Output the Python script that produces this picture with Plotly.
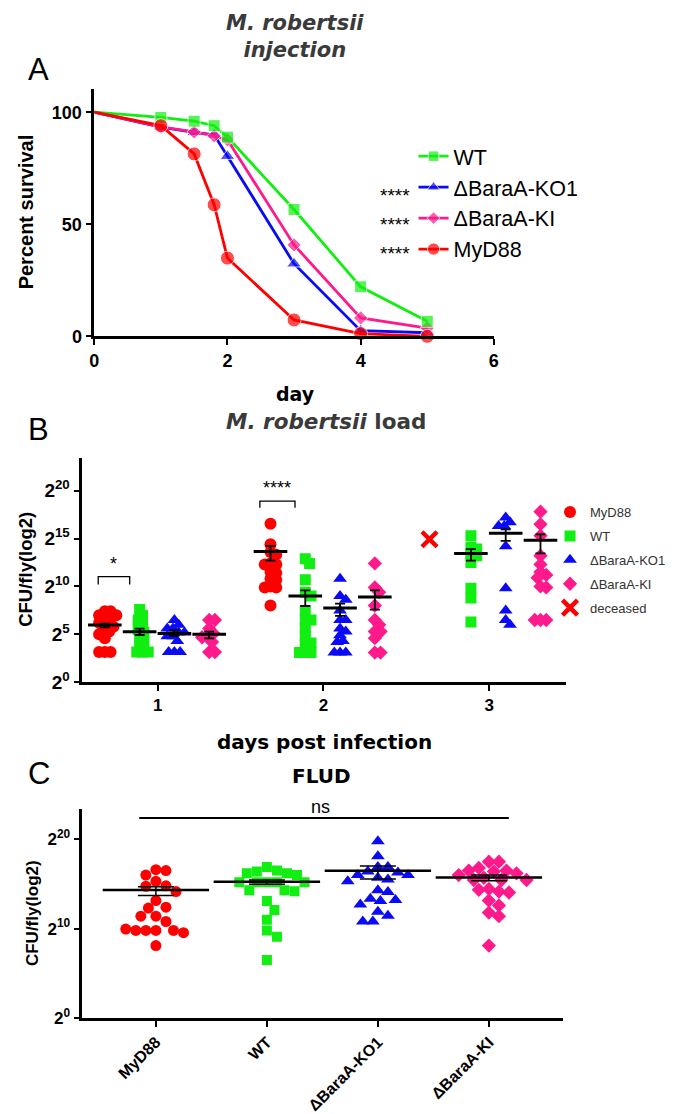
import plotly.graph_objects as go

W, H = 681, 1114

# ---------------- data ----------------
# A: survival after M. robertsii injection
days = [0, 1, 1.5, 1.8, 2, 3, 4, 5]
surv_wt = [100, 97.7, 96.0, 94.0, 88.9, 56.6, 22.1, 6.7]
surv_ko1 = [100, 93.3, 91.0, 89.9, 80.4, 32.4, 2.5, 1.6]
surv_ki = [100, 93.5, 91.2, 89.5, 87.7, 40.8, 8.2, 3.7]
surv_myd88 = [100, 94.0, 81.4, 58.7, 34.9, 7.3, 1.2, 0]

# B: M. robertsii load, log2 CFU/fly per day
myd88_d1 = [7.4, 7.4, 7.0, 7.0, 6.6, 6.6, 6.2, 6.0, 5.8, 5.5, 5.3, 5.0, 4.6, 3.15, 3.15, 3.15]
wt_d1 = [7.6, 7.0, 6.5, 6.0, 5.5, 5.2, 4.7, 4.2, 3.7, 3.15, 3.15, 3.15]
ko1_d1 = [6.5, 6.0, 5.6, 5.6, 5.2, 5.2, 4.8, 4.8, 4.3, 3.15, 3.15, 3.15]
ki_d1 = [6.5, 6.5, 5.6, 5.1, 4.7, 4.7, 4.2, 3.15, 3.15]

myd88_d2 = [16.55, 14.4, 13.6, 13.3, 12.4, 12.3, 12.3, 11.5, 11.4, 10.8, 10.7, 10.0, 9.9, 9.9, 8.0]
wt_d2 = [12.9, 12.4, 10.7, 9.4, 9.0, 7.5, 6.5, 6.5, 5.6, 4.9, 4.1, 4.1, 3.1, 3.1, 3.1]
ko1_d2 = [10.8, 9.0, 8.6, 7.5, 6.5, 6.5, 5.6, 5.3, 4.9, 4.3, 4.2, 3.1, 3.1, 3.1]
ki_d2 = [12.4, 9.9, 9.4, 8.0, 6.5, 6.0, 5.3, 5.3, 4.6, 3.1, 3.1]

wt_d3 = [15.3, 14.1, 13.9, 13.4, 13.2, 12.5, 9.8, 8.8, 6.3]
ko1_d3 = [17.2, 16.7, 16.3, 16.3, 14.2, 9.8, 7.5, 6.5, 6.0]
ki_d3 = [17.8, 16.5, 15.3, 13.2, 12.3, 11.5, 11.2, 10.9, 10.0, 9.9, 6.5, 6.5, 6.5]
myd88_deceased = 14.92

# mean and SEM (log2)
mean_myd88_b = [5.97, 13.65]
up_myd88_b = [0.15, 0.59]
dn_myd88_b = [0.25, 0.96]
mean_wt_b = [5.27, 9.0, 13.44]
up_wt_b = [0.33, 0.59, 0.45]
dn_wt_b = [0.34, 1.04, 0.75]
mean_ko1_b = [5.1, 7.76, 15.55]
up_ko1_b = [0.33, 0.44, 0.41]
dn_ko1_b = [0.26, 0.83, 0.79]
mean_ki_b = [5.0, 8.9, 14.82]
up_ki_b = [0.28, 0.69, 0.62]
dn_ki_b = [0.41, 1.32, 1.38]

# C: FLUD
flud_cats = ["MyD88", "WT", "ΔBaraA-KO1", "ΔBaraA-KI"]
flud_myd88 = [16.6, 16.5, 16.0, 15.3, 14.8, 14.75, 14.15, 13.15, 12.4, 12.3, 11.4, 11.4, 10.8,
              9.8, 9.8, 9.8, 9.8, 9.55, 9.95, 8.1]
flud_wt = [16.9, 16.5, 16.4, 16.2, 16.2, 16.0, 15.2, 15.2, 15.2, 15.2, 15.2, 14.3, 14.3, 14.2,
           13.1, 12.1, 11.0, 9.8, 9.1, 6.5]
flud_ko1 = [19.8, 18.1, 16.9, 16.9, 16.4, 16.3, 16.0, 16.0, 15.7, 15.5, 15.3, 14.3, 14.1, 13.35,
            13.2, 13.1, 12.7, 11.9, 11.45, 10.8, 10.8]
flud_ki = [17.5, 17.5, 16.8, 16.5, 16.5, 16.4, 16.2, 16.0, 15.7, 15.45, 15.45, 15.45, 14.45, 14.35,
           14.15, 14.05, 13.15, 12.6, 11.8, 11.4, 8.1]
flud_mean = [14.33, 15.26, 16.48, 15.74]
flud_up = [0.37, 0.18, 0.55, 0.26]
flud_dn = [0.63, 0.3, 0.92, 0.37]

RED, GREEN, BLUE, PINK = "#ff0000", "#11ee11", "#0a0af5", "#ff1a8c"
ARIAL = "Liberation Sans, Arial"
WIDE = "DejaVu Sans"


def swarm(vals, ppx, ppy, diam):
    # simple beeswarm: shift points sideways until they don't overlap
    placed, out = [], []
    step = diam / 4.0
    for v in vals:
        y = v * ppy
        k = 0
        pos = None
        while pos is None:
            for c in ([0.0] if k == 0 else [k * step, -k * step]):
                if all((c - a) ** 2 + (y - b) ** 2 >= diam ** 2 for a, b in placed):
                    pos = c
                    break
            k += 1
        placed.append((pos, y))
        out.append(pos / ppx)
    return out


def px(x):
    return x / W


def py(y):
    return 1 - y / H


fig = go.Figure()

# ---------------- panel A ----------------
for name, surv, col, sym, size, rank in [
    ("ΔBaraA-KO1", surv_ko1, BLUE, "triangle-up", 13, 2),
    ("ΔBaraA-KI", surv_ki, PINK, "diamond", 11, 3),
    ("WT", surv_wt, GREEN, "square", 12, 1),
    ("MyD88", surv_myd88, RED, "circle", 14, 4),
]:
    fig.add_trace(go.Scatter(
        x=days, y=surv, mode="lines+markers", name=name,
        line=dict(color=col, width=2.8),
        marker=dict(symbol=sym, color=col, size=[0] + [size] * (len(days) - 1)),
        xaxis="x", yaxis="y", legend="legend", legendrank=rank, cliponaxis=False))

# ---------------- panel B ----------------
offs = {"MyD88": -0.32, "WT": -0.11, "ΔBaraA-KO1": 0.10, "ΔBaraA-KI": 0.31}
groups_b = [
    ("MyD88", RED, "circle", 12, [1, 2], [myd88_d1, myd88_d2], mean_myd88_b, up_myd88_b, dn_myd88_b),
    ("WT", GREEN, "square", 11, [1, 2, 3], [wt_d1, wt_d2, wt_d3], mean_wt_b, up_wt_b, dn_wt_b),
    ("ΔBaraA-KO1", BLUE, "triangle-up", 12, [1, 2, 3], [ko1_d1, ko1_d2, ko1_d3], mean_ko1_b, up_ko1_b, dn_ko1_b),
    ("ΔBaraA-KI", PINK, "diamond", 11, [1, 2, 3], [ki_d1, ki_d2, ki_d3], mean_ki_b, up_ki_b, dn_ki_b),
]
for i, (name, col, sym, size, dd, lists, mn, up, dn) in enumerate(groups_b):
    xs, ys = [], []
    for d, vals in zip(dd, lists):
        o = swarm(vals, 173.3, 9.67, 6)
        xs += [d + offs[name] + a for a in o]
        ys += vals
    fig.add_trace(go.Scatter(
        x=xs, y=ys, mode="markers", name=name + "\u00a0" * 5, legendgroup="b" + name,
        marker=dict(symbol=sym, color=col, size=size, line=dict(width=0)),
        xaxis="x2", yaxis="y2", legend="legend2", legendrank=i + 1))
    fig.add_trace(go.Scatter(
        x=[d + offs[name] for d in dd], y=mn, mode="markers", showlegend=False,
        marker=dict(symbol="line-ew", size=24, line=dict(color="black", width=3)),
        error_y=dict(type="data", symmetric=False, array=up, arrayminus=dn,
                     color="black", thickness=1.8, width=5),
        xaxis="x2", yaxis="y2"))

fig.add_trace(go.Scatter(
    x=[3 + offs["MyD88"] - 0.04], y=[myd88_deceased], mode="markers", name="deceased",
    legendgroup="bdeceased",
    marker=dict(symbol="x-thin", size=15, line=dict(color=RED, width=4.5), color=RED),
    xaxis="x2", yaxis="y2", legend="legend2", legendrank=5))

# ---------------- panel C ----------------
for i, (vals, col, sym, size) in enumerate([
    (flud_myd88, RED, "circle", 11),
    (flud_wt, GREEN, "square", 10),
    (flud_ko1, BLUE, "triangle-up", 12),
    (flud_ki, PINK, "diamond", 11),
]):
    o = swarm(vals, 116, 9.0, 10.5)
    fig.add_trace(go.Scatter(
        x=[i + a for a in o], y=vals, mode="markers", showlegend=False,
        marker=dict(symbol=sym, color=col, size=size, line=dict(width=0)),
        xaxis="x3", yaxis="y3"))
fig.add_trace(go.Scatter(
    x=list(range(len(flud_cats))), y=flud_mean, mode="markers", showlegend=False,
    marker=dict(symbol="line-ew", size=76, line=dict(color="black", width=2.5)),
    error_y=dict(type="data", symmetric=False, array=flud_up, arrayminus=flud_dn,
                 color="black", thickness=1.5, width=18),
    xaxis="x3", yaxis="y3"))

# ---------------- layout ----------------
axis_common = dict(showline=True, linecolor="black", linewidth=2.5, ticks="outside",
                   ticklen=6, tickwidth=2, tickcolor="black", showgrid=False, zeroline=False)
bold_tick = dict(family=ARIAL, size=18, color="black", weight="bold")

sup = lambda n: "2<sup>%d</sup>" % n

annotations = [
    dict(x=px(295), y=py(29), text="<b><i>M. robertsii<br>injection</i></b>",
         font=dict(family=WIDE, size=21, color="#3a3a3a")),
    dict(x=px(27), y=py(62), text="A", font=dict(family=ARIAL, size=31, color="black")),
    dict(x=px(14), y=py(206), text="<b>Percent survival</b>", textangle=-90,
         font=dict(family=ARIAL, size=20, color="black")),
    dict(x=px(295), y=py(390), text="<b>day</b>", font=dict(family=WIDE, size=19, color="black")),
    dict(x=px(27), y=py(426), text="B", font=dict(family=ARIAL, size=31, color="black")),
    dict(x=px(327), y=py(418), text="<b><i>M. robertsii</i> load</b>",
         font=dict(family=WIDE, size=21.5, color="#3a3a3a")),
    dict(x=px(13), y=py(567), text="<b>CFU/fly(log2)</b>", textangle=-90,
         font=dict(family=ARIAL, size=18.5, color="black")),
    dict(x=px(326), y=py(741), text="<b>days post infection</b>",
         font=dict(family=WIDE, size=20, color="black")),
    dict(x=px(27), y=py(773), text="C", font=dict(family=ARIAL, size=31, color="black")),
    dict(x=px(323), y=py(776), text="<b>FLUD</b>", font=dict(family=WIDE, size=20, color="black")),
    dict(x=px(21), y=py(914), text="<b>CFU/fly(log2)</b>", textangle=-90,
         font=dict(family=ARIAL, size=17, color="black")),
    dict(x=px(322), y=py(807), text="ns", font=dict(family=ARIAL, size=18, color="black")),
    # significance stars
    dict(x=0.735, y=11.1, xref="x2", yref="y2", text="*", yanchor="bottom",
         font=dict(family=ARIAL, size=18, color="black")),
    dict(x=1.722, y=19.0, xref="x2", yref="y2", text="****", yanchor="bottom",
         font=dict(family=ARIAL, size=18, color="black")),
]
for yy in [187, 217, 246]:
    annotations.append(dict(x=px(417), y=py(yy + 2), text="****", xanchor="right",
                            font=dict(family=ARIAL, size=19, color="black")))
for a in annotations:
    a.setdefault("xref", "paper")
    a.setdefault("yref", "paper")
    a.setdefault("xanchor", "center")
    a.setdefault("yanchor", "middle")
    a["showarrow"] = False

shapes = [
    dict(type="path", xref="x2", yref="y2", path="M 0.64,10.2 L 0.64,11.03 L 0.83,11.03 L 0.83,10.2",
         line=dict(color="black", width=1.3)),
    dict(type="path", xref="x2", yref="y2", path="M 1.616,18.2 L 1.616,18.9 L 1.828,18.9 L 1.828,18.2",
         line=dict(color="black", width=1.3)),
    dict(type="line", xref="x3", yref="y3", x0=-0.15, x1=3.18, y0=22.4, y1=22.4,
         line=dict(color="black", width=2)),
]

fig.update_layout(
    width=W, height=H, margin=dict(l=0, r=0, t=0, b=0),
    paper_bgcolor="white", plot_bgcolor="white",
    font=dict(family=ARIAL, color="black"),
    xaxis=dict(axis_common, domain=[px(85), px(503)], range=[0, 6], anchor="y",
               tickvals=[0, 2, 4, 6], tickfont=bold_tick),
    yaxis=dict(axis_common, domain=[py(331.6), py(81.5)], range=[0, 110.5], anchor="x",
               tickvals=[0, 50, 100], tickfont=bold_tick),
    xaxis2=dict(axis_common, domain=[px(72.5), px(579)], range=[0.544, 3.467], anchor="y2",
                tickvals=[1, 2, 3], tickfont=dict(bold_tick, size=17)),
    yaxis2=dict(axis_common, domain=[py(681), py(454.5)], range=[0, 23.4], anchor="x2",
                tickvals=[0, 5, 10, 15, 20], ticktext=[sup(n) for n in [0, 5, 10, 15, 20]],
                tickfont=dict(bold_tick, size=19)),
    xaxis3=dict(axis_common, domain=[px(72.5), px(575.6)], range=[-0.663, 3.67], anchor="y3",
                tickvals=list(range(len(flud_cats))), ticktext=flud_cats, tickangle=-45,
                tickfont=dict(bold_tick, size=16)),
    yaxis3=dict(axis_common, domain=[py(1020), py(809)], range=[0, 23.4], anchor="x3",
                tickvals=[0, 10, 20], ticktext=[sup(n) for n in [0, 10, 20]],
                tickfont=dict(bold_tick, size=17)),
    legend=dict(x=px(419), y=py(129), xanchor="left", yanchor="top",
                font=dict(family=ARIAL, size=21.5, color="black"), bgcolor="rgba(0,0,0,0)"),
    legend2=dict(x=px(562), y=py(494), xanchor="left", yanchor="top", tracegroupgap=4,
                 font=dict(family=ARIAL, size=13, color="#333333"), bgcolor="rgba(0,0,0,0)"),
    annotations=annotations,
    shapes=shapes,
)

fig.write_html("out.html")
